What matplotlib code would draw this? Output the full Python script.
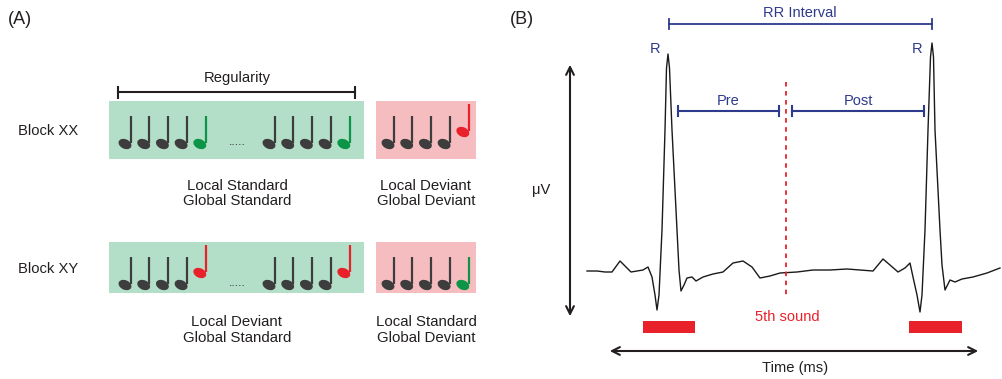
import matplotlib.pyplot as plt
from matplotlib.patches import Ellipse, Rectangle

plt.rcParams['font.family'] = ['Liberation Sans', 'DejaVu Sans']

# ---- panel A data ----
block_labels = ['Block XX', 'Block XY']
# (colour, raised) for each note of a five-tone trial
seq_main = [[('dark', 0)] * 4 + [('green', 0)],
            [('dark', 0)] * 4 + [('red', 1)]]
seq_dev = [[('dark', 0)] * 4 + [('red', 1)],
           [('dark', 0)] * 4 + [('green', 0)]]
labels_main = ['Local Standard\nGlobal Standard', 'Local Deviant\nGlobal Standard']
labels_dev = ['Local Deviant\nGlobal Deviant', 'Local Standard\nGlobal Deviant']

# ---- panel B data (ECG trace, pixel coords) ----
ecg_x = [587, 597, 605, 612, 620, 625, 631, 637, 643, 648, 652, 655, 657, 659, 662,
         665, 666.5, 668, 669.5, 672, 677, 679, 681, 684, 687, 692, 696, 703, 713, 723,
         733, 743, 752, 760, 770, 780, 797, 813, 830, 847, 860, 873, 883, 890, 898,
         905, 910, 913, 917, 920, 922, 925, 928, 930.5, 932, 933.5, 935, 940, 942, 945,
         950, 955, 962, 973, 987, 1000]
ecg_y = [271, 271, 272, 272, 261, 266, 272, 271, 270, 267, 277, 295, 310, 295, 230,
         130, 68, 54, 68, 130, 230, 270, 291, 285, 278, 277, 281, 277, 274, 272,
         263, 261, 267, 278, 276, 273, 272, 270, 270, 269, 270, 271, 259, 265, 272,
         268, 263, 277, 295, 312, 295, 230, 130, 57, 43, 57, 130, 230, 265, 290,
         280, 282, 279, 277, 273, 268]

colors = {'dark': '#3d3d3d', 'green': '#0c9447', 'red': '#e8212b'}
navy = '#2e3a8c'
red = '#e8212b'
ink = '#231f20'

fig = plt.figure(figsize=(10.02, 3.79), dpi=100)
ax = fig.add_axes([0, 0, 1, 1])
ax.set_xlim(0, 1002)
ax.set_ylim(379, 0)
ax.axis('off')


def note(x, y, c, raised):
    yy = y - 12 * raised
    ax.add_patch(Ellipse((x, yy), 13.5, 9.5, angle=25, color=colors[c], lw=0))
    ax.plot([x + 5.8, x + 5.8], [yy - 1, yy - 28], color=colors[c], lw=1.6,
            solid_capstyle='butt')


rows = [(101, 159, 144), (242, 293, 285)]
label_y = [(186, 201), (322, 338)]
for i, (top, bot, hy) in enumerate(rows):
    ax.text(18, (131, 269)[i], block_labels[i], fontsize=10.6, va='center', ha='left',
            color=ink)
    ax.add_patch(Rectangle((109, top), 255, bot - top, color='#b3dfc8', lw=0))
    ax.add_patch(Rectangle((376, top), 100, bot - top, color='#f6bdc1', lw=0))
    for g0 in (125, 269):
        for k, (c, r) in enumerate(seq_main[i]):
            note(g0 + 18.7 * k, hy, c, r)
    for k, (c, r) in enumerate(seq_dev[i]):
        note(388 + 18.7 * k, hy, c, r)
    ax.text(237, hy - 2, '.....', fontsize=9, ha='center', va='center', color='#333333')
    for j, line in enumerate(labels_main[i].split('\n')):
        ax.text(237, label_y[i][j], line, fontsize=10.8, ha='center', va='center', color=ink)
    for j, line in enumerate(labels_dev[i].split('\n')):
        ax.text(426, label_y[i][j], line, fontsize=10.8, ha='center', va='center', color=ink)

# regularity bracket
ax.plot([118, 355], [92, 92], color=ink, lw=1.5)
ax.plot([118, 118], [87, 98], color=ink, lw=1.5)
ax.plot([355, 355], [87, 98], color=ink, lw=1.5)
ax.text(237, 78, 'Regularity', fontsize=10.6, ha='center', va='center', color=ink)
ax.text(8, 20, '(A)', fontsize=13, ha='left', va='center', color=ink)

# ---- panel B ----
ax.text(510, 20, '(B)', fontsize=13, ha='left', va='center', color=ink)
ax.plot(ecg_x, ecg_y, color='#1a1a1a', lw=1.0)

# RR interval
ax.plot([669, 932], [24, 24], color=navy, lw=1.3)
for x in (669, 932):
    ax.plot([x, x], [19, 29], color=navy, lw=1.3)
ax.text(800, 13, 'RR Interval', fontsize=10.5, color=navy, ha='center', va='center')
ax.text(655, 49, 'R', fontsize=10.5, color=navy, ha='center', va='center')
ax.text(917, 49, 'R', fontsize=10.5, color=navy, ha='center', va='center')

# pre / post
for x0, x1, lab in [(678, 779, 'Pre'), (792, 924, 'Post')]:
    ax.plot([x0, x1], [111, 111], color=navy, lw=1.5)
    for x in (x0, x1):
        ax.plot([x, x], [106, 116], color=navy, lw=1.5)
    ax.text((x0 + x1) / 2, 101, lab, fontsize=10.5, color=navy, ha='center', va='center')

ax.plot([786, 786], [82, 295], color=red, lw=1.3, ls=(0, (2.5, 2.5)))
ax.text(787, 317, '5th sound', fontsize=10.5, color=red, ha='center', va='center')
ax.add_patch(Rectangle((643, 321), 52, 12, color=red, lw=0))
ax.add_patch(Rectangle((909, 321), 53, 12, color=red, lw=0))

# axes arrows
ax.annotate('', xy=(607, 351), xytext=(981, 351),
            arrowprops=dict(arrowstyle='<->', color=ink, lw=1.5, mutation_scale=14))
ax.text(795, 368, 'Time (ms)', fontsize=10.6, ha='center', va='center', color=ink)
ax.annotate('', xy=(570, 62), xytext=(570, 319),
            arrowprops=dict(arrowstyle='<->', color=ink, lw=1.5, mutation_scale=14))
ax.text(541, 190, 'μV', fontsize=10.6, ha='center', va='center', color=ink)

fig.savefig('out.png', dpi=100)
